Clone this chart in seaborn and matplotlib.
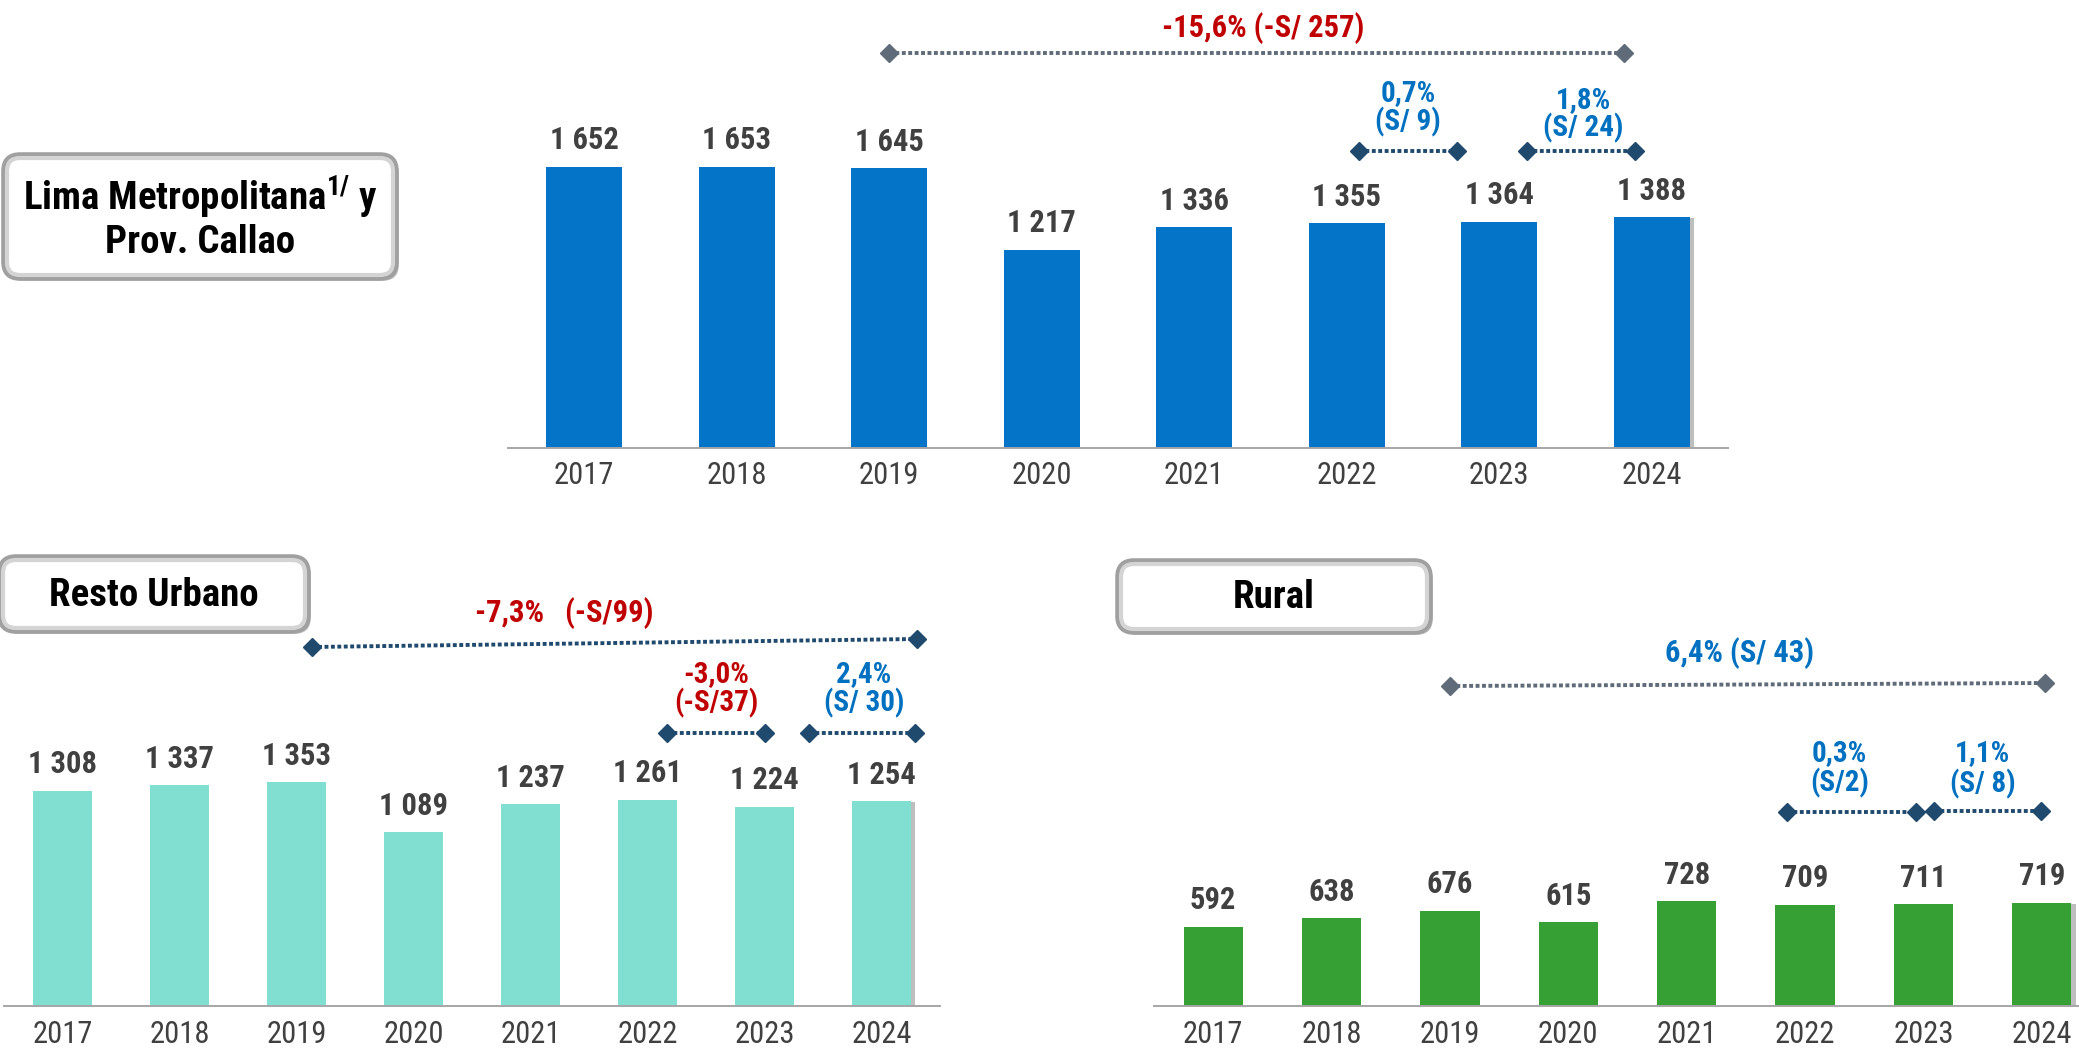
import matplotlib
matplotlib.use("Agg")
import matplotlib.pyplot as plt
import seaborn as sns
import pandas as pd
from matplotlib import font_manager
from matplotlib import patheffects as pe
from matplotlib.patches import FancyBboxPatch
from matplotlib.transforms import blended_transform_factory

# --- data -------------------------------------------------------------
years = ["2017", "2018", "2019", "2020", "2021", "2022", "2023", "2024"]
lima = [1652, 1653, 1645, 1217, 1336, 1355, 1364, 1388]
resto = [1308, 1337, 1353, 1089, 1237, 1261, 1224, 1254]
rural = [592, 638, 676, 615, 728, 709, 711, 719]

# variation labels
lima_total = "-15,6% (-S/ 257)"
lima_22 = ["0,7%", "(S/ 9)"]
lima_23 = ["1,8%", "(S/ 24)"]
resto_total = "-7,3%   (-S/99)"
resto_22 = ["-3,0%", "(-S/37)"]
resto_23 = ["2,4%", "(S/ 30)"]
rural_total = "6,4% (S/ 43)"
rural_22 = ["0,3%", "(S/2)"]
rural_23 = ["1,1%", "(S/ 8)"]

W, H = 2079, 1053
RED = "#C00000"
BLUE = "#0070C0"
NAVY = "#1F4A6E"
SLATE = "#5F6B78"
LABEL = "#404040"

sns.set_style("white")


def pick_font():
    # prefer a narrow sans, the reference uses Arial Narrow
    entries = font_manager.fontManager.ttflist
    names = {f.name for f in entries}
    for n in ["Liberation Sans Narrow", "Arial Narrow", "Roboto Condensed",
              "Noto Sans Condensed", "Open Sans Condensed", "DejaVu Sans Condensed"]:
        if n in names:
            return n, "normal"
    for pref in ["Noto Sans", "Roboto", "Open Sans", "DejaVu Sans"]:
        for f in entries:
            if f.name == pref and str(f.stretch) in ("condensed", "semi-condensed"):
                return f.name, str(f.stretch)
    return "DejaVu Sans", "normal"


narrow, stretch = pick_font()
WIDE = stretch == "normal" and narrow == "DejaVu Sans"
plt.rcParams["font.family"] = [narrow, "DejaVu Sans"]
plt.rcParams["font.stretch"] = stretch
plt.rcParams["mathtext.fontset"] = "custom"
plt.rcParams["mathtext.rm"] = narrow
plt.rcParams["mathtext.bf"] = narrow + ":bold"

k = 0.86 if WIDE else 1.0   # shrink text a bit if only a wide face exists

fig = plt.figure(figsize=(W / 100, H / 100), dpi=100)

# background layer in pixel coordinates for the title boxes
bg = fig.add_axes([0, 0, 1, 1])
bg.set_xlim(0, W)
bg.set_ylim(H, 0)
bg.axis("off")

PX_PER_UNIT = 0.19
Y0 = 175


def panel(left, right, top, bottom):
    ax = fig.add_axes([left / W, 1 - bottom / H, (right - left) / W, (bottom - top) / H])
    ax.patch.set_alpha(0)
    return ax


def fmt(v):
    return f"{v:,}".replace(",", " ")


def draw_bars(ax, values, color):
    df = pd.DataFrame({"year": years, "value": values})
    sns.barplot(data=df, x="year", y="value", color=color, width=0.5,
                saturation=1, linewidth=0, ax=ax)
    ax.set_ylim(Y0, Y0 + ax.bbox.height / PX_PER_UNIT)
    ax.set_xlim(-0.5, 7.5)
    ax.set_xlabel("")
    ax.set_ylabel("")
    ax.set_yticks([])
    ax.set_xticks(range(len(years)))
    ax.set_xticklabels(years)
    ax.set_xticks([i - 0.5 for i in range(len(years) + 1)], minor=True)
    ax.tick_params(axis="x", which="major", length=0, pad=10, labelsize=22 * k, labelcolor=LABEL)
    ax.tick_params(axis="x", which="minor", length=9, width=1.3, color="#A6A6A6", direction="out")
    for s in ["left", "top", "right"]:
        ax.spines[s].set_visible(False)
    ax.spines["bottom"].set_color("#A6A6A6")
    ax.spines["bottom"].set_linewidth(1.4)
    # soft shadow on the last bar
    ax.patches[-1].set_path_effects([pe.SimplePatchShadow(offset=(3, -1), shadow_rgbFace="#7F7F7F", alpha=0.5),
                                     pe.Normal()])
    for i, v in enumerate(values):
        ax.annotate(fmt(v), (i, v), xytext=(0, 19), textcoords="offset points",
                    ha="center", va="center", fontsize=22 * k, fontweight="bold", color=LABEL)


def bracket(ax, x0, x1, y0, y1, color):
    tr = blended_transform_factory(ax.transData, fig.transFigure)
    ya, yb = 1 - y0 / H, 1 - y1 / H
    ax.plot([x0, x1], [ya, yb], transform=tr, color=color, lw=2.8,
            linestyle=(0, (1, 0.65)), clip_on=False)
    ax.plot([x0, x1], [ya, yb], transform=tr, linestyle="none", marker="D",
            ms=9, color=color, clip_on=False)


def note(ax, x, y, s, color, size=21):
    tr = blended_transform_factory(ax.transData, fig.transFigure)
    ax.text(x, 1 - y / H, s, transform=tr, ha="center", va="center",
            fontsize=size * k, fontweight="bold", color=color, clip_on=False)


def title_box(x0, y0, x1, y1, text, size, ls=1.1):
    box = FancyBboxPatch((x0, y0), x1 - x0, y1 - y0,
                         boxstyle="round,pad=0,rounding_size=16",
                         facecolor="white", edgecolor="#A0A0A0", lw=4)
    box.set_path_effects([pe.SimplePatchShadow(offset=(2, -2), shadow_rgbFace="#808080", alpha=0.5),
                          pe.Normal()])
    bg.add_patch(box)
    inner = FancyBboxPatch((x0 + 3, y0 + 3), x1 - x0 - 6, y1 - y0 - 6,
                           boxstyle="round,pad=0,rounding_size=13",
                           facecolor="none", edgecolor="#D4D4D4", lw=3)
    bg.add_patch(inner)
    bg.text((x0 + x1) / 2, (y0 + y1) / 2 + 1, text, ha="center", va="center",
            fontsize=size * k, fontweight="bold", color="black", linespacing=ls)


# --- Lima Metropolitana -----------------------------------------------
ax1 = panel(508, 1728, 0, 447.5)
draw_bars(ax1, lima, "#0474C8")
note(ax1, 4.45, 28, lima_total, RED, 22)
bracket(ax1, 2.0, 6.82, 53, 53, SLATE)
note(ax1, 5.40, 93, lima_22[0], BLUE)
note(ax1, 5.40, 122, lima_22[1], BLUE)
bracket(ax1, 5.08, 5.72, 151, 151, NAVY)
note(ax1, 6.55, 100, lima_23[0], BLUE)
note(ax1, 6.55, 128, lima_23[1], BLUE)
bracket(ax1, 6.18, 6.89, 151, 151, NAVY)

# --- Resto Urbano -----------------------------------------------------
ax2 = panel(4, 940, 540, 1006)
draw_bars(ax2, resto, "#80DFD0")
note(ax2, 4.29, 613, resto_total, RED, 22)
bracket(ax2, 2.13, 7.30, 647, 639, NAVY)
note(ax2, 5.59, 674, resto_22[0], RED)
note(ax2, 5.59, 703, resto_22[1], RED)
bracket(ax2, 5.17, 6.0, 733, 733, NAVY)
note(ax2, 6.85, 674, resto_23[0], BLUE)
note(ax2, 6.85, 703, resto_23[1], BLUE)
bracket(ax2, 6.38, 7.29, 733, 733, NAVY)

# --- Rural ------------------------------------------------------------
ax3 = panel(1154, 2101, 540, 1006)
draw_bars(ax3, rural, "#36A035")
note(ax3, 4.45, 653, rural_total, BLUE, 22)
bracket(ax3, 2.0, 7.03, 686, 683, SLATE)
note(ax3, 5.29, 753, rural_22[0], BLUE)
note(ax3, 5.29, 783, rural_22[1], BLUE)
bracket(ax3, 4.85, 5.94, 812, 812, NAVY)
note(ax3, 6.50, 753, rural_23[0], BLUE)
note(ax3, 6.50, 784, rural_23[1], BLUE)
bracket(ax3, 6.09, 6.99, 811, 811, NAVY)

# --- title boxes ------------------------------------------------------
title_box(4, 155, 396, 278, "Lima Metropolitana$^{\\mathbf{1/}}$ y\nProv. Callao", 28 if not WIDE else 25)
title_box(0, 557, 308, 631, "Resto Urbano", 28)
title_box(1118, 561, 1430, 632, "Rural", 28)

fig.savefig("out.png", dpi=100)
